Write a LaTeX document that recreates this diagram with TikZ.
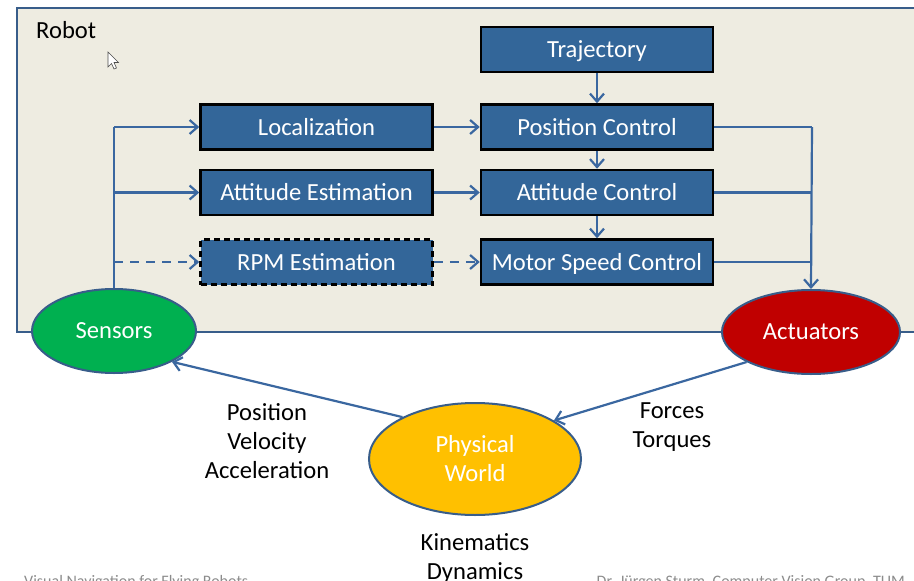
\documentclass[tikz,border=0pt]{standalone}
\usepackage{fontspec}
\setmainfont{Carlito}
\usetikzlibrary{arrows.meta,shapes.geometric}
\definecolor{framec}{HTML}{385D8A}
\definecolor{bgc}{HTML}{EEECE1}
\definecolor{boxc}{HTML}{336699}
\definecolor{arrc}{HTML}{3A67A0}
\definecolor{greenc}{HTML}{00B050}
\definecolor{redc}{HTML}{C00000}
\definecolor{yellowc}{HTML}{FFC000}
\definecolor{footc}{HTML}{8C8C8C}
\begin{document}
\begin{tikzpicture}[x=1pt,y=-1pt,
  blk/.style={draw=black, line width=2.5pt, fill=boxc, text=white, minimum width=232pt, minimum height=45pt, inner sep=0pt, text height=19pt, text depth=3pt, font=\fontsize{24.6}{29}\selectfont},
  ell/.style={ellipse, draw=framec, line width=2pt, text=white, inner sep=0pt, align=center, font=\fontsize{24.6}{29}\selectfont},
  lbl/.style={text=black, align=center, inner sep=0pt, font=\fontsize{24.6}{29}\selectfont},
  wire/.style={draw=arrc, line width=2.2pt},
  con/.style={wire, -{Straight Barb[length=8pt,width=14pt,line width=2.2pt]}},
  dsh/.style={dash pattern=on 9pt off 7pt}
]
\useasboundingbox (0,0) rectangle (914,581);
\clip (0,0) rectangle (914,581);
\fill[white] (0,0) rectangle (914,581);
% robot frame
\draw[framec, line width=2pt, fill=bgc] (17,8) rectangle (940,332);
\node[anchor=base west, inner sep=0pt, font=\fontsize{24.6}{29}\selectfont] (robot) at (36,38) {Robot};
% cursor
\draw[black!70, fill=white, line width=0.6pt] (108,52) -- (108,67) -- (111.5,63.5) -- (114,69) -- (116.5,68) -- (114,62.5) -- (118.5,62.5) -- cycle;
% blocks
\node[blk] (traj) at (597,49.5) {Trajectory};
\node[blk] (loc) at (316.5,127) {Localization};
\node[blk] (pos) at (597,127) {Position Control};
\node[blk] (atte) at (316.5,192.5) {Attitude Estimation};
\node[blk] (attc) at (597,192.5) {Attitude Control};
\node[blk, dash pattern=on 6pt off 4pt] (rpm) at (316.5,262) {RPM Estimation};
\node[blk] (motor) at (597,262) {Motor Speed Control};
% ellipses
\node[ell, fill=greenc, minimum width=164pt, minimum height=84pt] (sens) at (114,331) {Sensors};
\node[ell, fill=redc, minimum width=178pt, minimum height=84pt] (act) at (811,332) {Actuators};
\node[ell, fill=yellowc, minimum width=212pt, minimum height=112pt] (world) at (475,459) {Physical\\World};
% internal connectors
\draw[con] (traj) -- (pos);
\draw[con] (pos) -- (attc);
\draw[con] (attc) -- (motor);
\draw[con] (loc) -- (pos);
\draw[con] (atte) -- (attc);
\draw[con, dsh] (rpm) -- (motor);
% sensor branch
\coordinate (sv) at (114,127);
\draw[wire] (sens.north) -- (sv);
\draw[con] (sv) -- (loc.west);
\draw[con] (sens.north |- atte.west) -- (atte.west);
\draw[con, dsh] (sens.north |- rpm.west) -- (rpm.west);
% actuator branch
\coordinate (rv) at (812,127);
\draw[wire] (pos.east) -- (rv);
\draw[wire] (attc.east) -- (attc.east -| rv);
\draw[wire] (motor.east) -- (motor.east -| rv);
\draw[con] (rv) -- (act.north);
% loop
\draw[con] (act.205.5) -- (world.26.6);
\draw[con] (world.150) -- (sens.332);
% labels
\node[lbl] (pva) at (267,441) {Position\\Velocity\\Acceleration};
\node[lbl] (ft) at (672,427) {Forces\\Torques};
\node[lbl] (kd) at (475,558) {Kinematics\\Dynamics};
% footer
\node[anchor=base west, inner sep=0pt, text=footc, font=\fontsize{16}{19}\selectfont] (f1) at (24,586) {Visual Navigation for Flying Robots};
\node[anchor=base east, inner sep=0pt, text=footc, font=\fontsize{16}{19}\selectfont] (f2) at (905,586) {Dr. Jürgen Sturm, Computer Vision Group, TUM};
\end{tikzpicture}
\end{document}
